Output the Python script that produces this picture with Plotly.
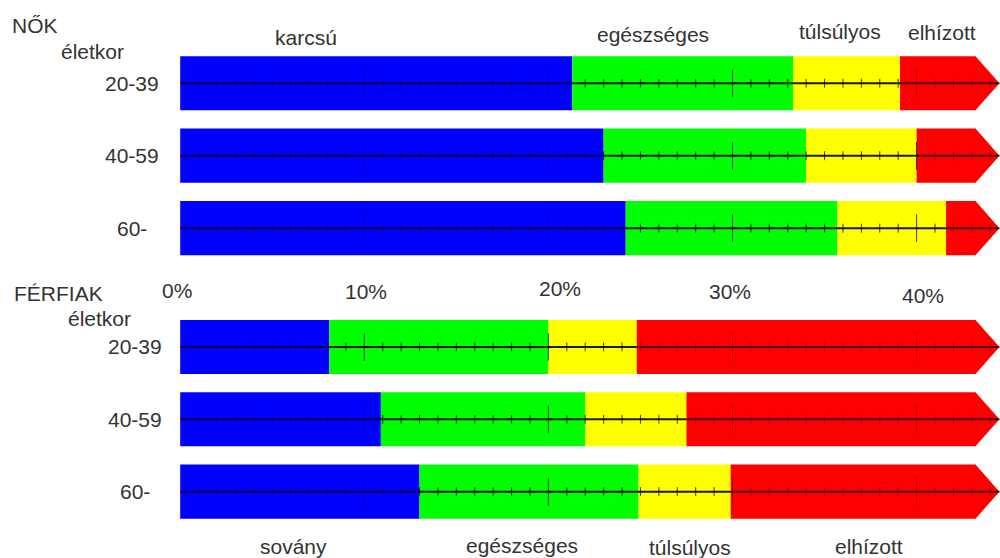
import plotly.graph_objects as go

# ---------------- data ----------------
AGE_GROUPS = ["20-39", "40-59", "60-"]
WOMEN_CATEGORIES = ["karcsú", "egészséges", "túlsúlyos", "elhízott"]
MEN_CATEGORIES = ["sovány", "egészséges", "túlsúlyos", "elhízott"]
# upper bound (% body fat) of each band, per age group
WOMEN_BLUE_END = [21.3, 23.0, 24.2]
WOMEN_GREEN_END = [33.3, 34.0, 35.7]
WOMEN_YELLOW_END = [39.1, 40.0, 41.6]
MEN_BLUE_END = [8.1, 10.9, 13.0]
MEN_GREEN_END = [20.0, 22.0, 24.9]
MEN_YELLOW_END = [24.8, 27.5, 29.9]
SCALE_END = 44.5          # tip of the arrow
PCT_TICKS = [0, 10, 20, 30, 40]
PCT_LABELS = ["0%", "10%", "20%", "30%", "40%"]
MINOR_TICKS = [k for k in range(1, 45) if k % 10 != 0]
MAJOR_TICKS = [10, 20, 30, 40]

# ---------------- style ----------------
W, H = 1000, 558
X0_PX, PX_PER_PCT = 180.2, 18.41
ARROW_LEN = 1.3
BAR_W = 0.748
COLORS = ["#0000FF", "#00FF00", "#FFFF00", "#FF0000"]
FONT = "Arial, Liberation Sans, sans-serif"
TXT = "#333333"
FS = 21


def py(p):
    return 1 - p / H


def px(p):
    return p / W


fig = go.Figure()


def seg_lines(xs_pairs, ys_pairs):
    xx, yy = [], []
    for (x0, x1), (y0, y1) in zip(xs_pairs, ys_pairs):
        xx += [x0, x1, None]
        yy += [y0, y1, None]
    return xx, yy


def add_lines(xx, yy, color, width, yaxis):
    fig.add_trace(go.Scatter(x=xx, y=yy, mode="lines",
                             line=dict(color=color, width=width),
                             yaxis=yaxis, xaxis="x", showlegend=False,
                             hoverinfo="skip"))


def panel(blue, green, yellow, yaxis):
    rows = list(range(len(AGE_GROUPS)))
    starts = [[0] * 3, blue, green]
    ends = [blue, green, yellow]
    for s, e, c in zip(starts, ends, COLORS[:3]):
        fig.add_trace(go.Bar(
            y=rows, x=[b - a for a, b in zip(s, e)], base=s, orientation="h",
            width=BAR_W, marker=dict(color=c, line=dict(width=0)),
            yaxis=yaxis, xaxis="x", showlegend=False, hoverinfo="skip"))
    # red band with arrow head
    for i, ys in zip(rows, yellow):
        a = SCALE_END - ARROW_LEN
        hw = BAR_W / 2
        fig.add_trace(go.Scatter(
            x=[ys, a, SCALE_END, a, ys, ys],
            y=[i - hw, i - hw, i, i + hw, i + hw, i - hw],
            fill="toself", fillcolor=COLORS[3], mode="lines",
            line=dict(width=0, color=COLORS[3]),
            yaxis=yaxis, xaxis="x", showlegend=False, hoverinfo="skip"))
    # scale line: softer over blue / red, crisp over green / yellow
    soft_x, soft_y, hard_x, hard_y = [], [], [], []
    for i, b, yl in zip(rows, blue, yellow):
        sx, sy = seg_lines([(0, b), (yl, SCALE_END)], [(i, i), (i, i)])
        hx, hy = seg_lines([(b, yl)], [(i, i)])
        soft_x += sx; soft_y += sy; hard_x += hx; hard_y += hy
    add_lines(soft_x, soft_y, "rgba(0,0,0,0.7)", 2, yaxis)
    add_lines(hard_x, hard_y, "rgba(0,0,0,0.9)", 2, yaxis)
    # ticks
    for ticks, h in ((MINOR_TICKS, 0.062), (MAJOR_TICKS, 0.19)):
        sx, sy, hx, hy = [], [], [], []
        for i, b, yl in zip(rows, blue, yellow):
            for k in ticks:
                if b <= k <= yl:
                    hx += [k, k, None]; hy += [i - h, i + h, None]
                else:
                    sx += [k, k, None]; sy += [i - h, i + h, None]
        add_lines(sx, sy, "rgba(0,0,0,0.3)", 1, yaxis)
        add_lines(hx, hy, "rgba(0,0,0,0.75)", 1, yaxis)


panel(WOMEN_BLUE_END, WOMEN_GREEN_END, WOMEN_YELLOW_END, "y")
panel(MEN_BLUE_END, MEN_GREEN_END, MEN_YELLOW_END, "y2")

ann = []


def text(t, x, y, size=FS, xanchor="center"):
    ann.append(dict(text=t, x=px(x), y=py(y), xref="paper", yref="paper",
                    showarrow=False, xanchor=xanchor, yanchor="middle",
                    font=dict(family=FONT, size=size, color=TXT)))


text("NŐK", 34.5, 25)
text("életkor", 92.5, 52)
text("FÉRFIAK", 58, 293)
text("életkor", 99, 318)

# age group labels
for i, g in enumerate(AGE_GROUPS):
    for yax, xc in (("y", 132), ("y2", 135)):
        ann.append(dict(text=g, x=px(xc), y=i, xref="paper", yref=yax,
                        showarrow=False, xanchor="center", yanchor="middle",
                        font=dict(family=FONT, size=FS, color=TXT)))

# category headers
for t, (x, y) in zip(WOMEN_CATEGORIES, [(306, 38), (653, 35), (840, 32), (942, 33)]):
    text(t, x, y)
for t, (x, y) in zip(MEN_CATEGORIES, [(293, 546), (522, 545), (690, 547), (869, 546)]):
    text(t, x, y)

# percentage labels
LABEL_DX = [-3, 2, 12, -3, 6]
LABEL_Y = [290, 291, 288, 291, 295]
for v, lab, dx, yy in zip(PCT_TICKS, PCT_LABELS, LABEL_DX, LABEL_Y):
    ann.append(dict(text=lab, x=v, y=py(yy), xref="x", yref="paper",
                    xshift=dx, showarrow=False, xanchor="center",
                    yanchor="middle",
                    font=dict(family=FONT, size=FS, color=TXT)))

women_dom = [py(264.4), py(47.0)]
men_dom = [py(527.8), py(310.8)]

fig.update_layout(
    width=W, height=H, margin=dict(l=0, r=0, t=0, b=0),
    paper_bgcolor="white", plot_bgcolor="white",
    barmode="overlay",
    xaxis=dict(range=[-X0_PX / PX_PER_PCT, (W - X0_PX) / PX_PER_PCT],
               visible=False, anchor="y", fixedrange=True),
    yaxis=dict(domain=women_dom, range=[2.5, -0.5], visible=False,
               anchor="x"),
    yaxis2=dict(domain=men_dom, range=[2.5, -0.5], visible=False,
                anchor="x"),
    annotations=ann,
    showlegend=False,
)

fig.write_html(
    "out.html",
    config={"displayModeBar": False},
    post_script="document.body.style.margin='0';document.body.style.overflow='hidden';",
)
